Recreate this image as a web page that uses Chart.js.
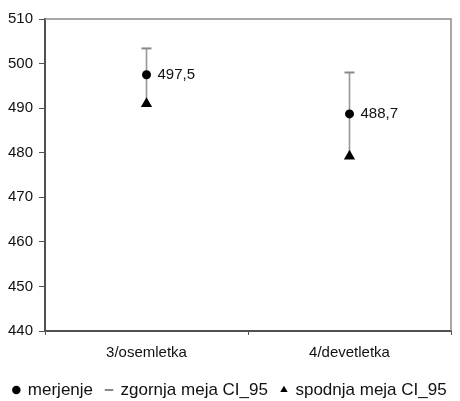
<!DOCTYPE html>
<html>
<head>
<meta charset="utf-8">
<script src="https://cdn.jsdelivr.net/npm/chart.js@4.4.1/dist/chart.umd.min.js"></script>
<style>
  html, body { margin: 0; padding: 0; background: #fff; }
  #wrap { width: 460px; height: 401px; }
</style>
</head>
<body>
<div id="wrap"><canvas id="c"></canvas></div>
<script>
const categories = ['3/osemletka', '4/devetletka'];
const merjenje = [497.5, 488.7];
const zgornjaMeja = [503.4, 498.0];
const spodnjaMeja = [491.0, 479.2];
const yTicks = [440, 450, 460, 470, 480, 490, 500, 510];
const legendNames = ['merjenje', 'zgornja meja CI_95', 'spodnja meja CI_95'];

const FONT = "Arial, 'Liberation Sans', Helvetica, sans-serif";
Chart.defaults.font.family = FONT;
Chart.defaults.color = '#111';

const ciRange = categories.map((_, i) => [spodnjaMeja[i], zgornjaMeja[i]]);

const borderPlugin = {
  id: 'borderBox',
  afterDraw(chart) {
    const a = chart.chartArea, ctx = chart.ctx;
    ctx.save();
    ctx.strokeStyle = '#8a8a8a';
    ctx.lineWidth = 1.5;
    ctx.beginPath();
    ctx.moveTo(a.left, a.top);
    ctx.lineTo(a.right, a.top);
    ctx.lineTo(a.right, a.bottom);
    ctx.stroke();
    ctx.restore();
  }
};

const labelPlugin = {
  id: 'valueLabels',
  afterDatasetsDraw(chart) {
    const meta = chart.getDatasetMeta(0);
    const ctx = chart.ctx;
    ctx.save();
    ctx.font = '15px ' + FONT;
    ctx.fillStyle = '#111';
    ctx.textBaseline = 'middle';
    ctx.textAlign = 'left';
    meta.data.forEach((el, i) => {
      ctx.fillText(merjenje[i].toFixed(1).replace('.', ','), el.x + 11, el.y);
    });
    ctx.restore();
  }
};

new Chart(document.getElementById('c'), {
  type: 'bar',
  data: {
    labels: categories,
    datasets: [
      {
        type: 'line', label: legendNames[0], data: merjenje, showLine: false,
        pointStyle: 'circle', pointRadius: 4.5, pointHoverRadius: 4.5,
        pointBackgroundColor: '#000', pointBorderColor: '#000', pointBorderWidth: 0,
        backgroundColor: '#000', borderColor: '#000'
      },
      {
        type: 'line', label: legendNames[1], data: zgornjaMeja, showLine: false,
        pointStyle: 'line', pointRadius: 5, pointHoverRadius: 5,
        pointBackgroundColor: '#888', pointBorderColor: '#888', pointBorderWidth: 2,
        backgroundColor: '#888', borderColor: '#888'
      },
      {
        type: 'line', label: legendNames[2], data: spodnjaMeja, showLine: false,
        pointStyle: 'triangle', pointRadius: 6.5, pointHoverRadius: 6.5,
        pointBackgroundColor: '#000', pointBorderColor: '#000', pointBorderWidth: 0,
        backgroundColor: '#000', borderColor: '#000'
      },
      {
        type: 'bar', label: 'CI', data: ciRange, barThickness: 1,
        backgroundColor: '#9a9a9a', borderWidth: 0, grouped: false
      }
    ]
  },
  options: {
    responsive: true,
    maintainAspectRatio: false,
    animation: false,
    events: [],
    layout: { padding: { left: 0, right: 0, top: 19, bottom: -7.5 } },
    plugins: {
      tooltip: { enabled: false },
      legend: {
        position: 'bottom',
        labels: {
          usePointStyle: true,
          boxWidth: 6,
          boxHeight: 6,
          padding: 13,
          color: '#111',
          font: { size: 17, family: FONT },
          filter: (item) => item.datasetIndex < 3
        }
      }
    },
    scales: {
      x: {
        offset: true,
        afterFit: (scale) => { scale.height = 37.5; },
        grid: { display: true, drawOnChartArea: false, offset: true, tickLength: 4, color: '#555', lineWidth: 1 },
        border: { display: true, color: '#505050', width: 2 },
        ticks: { padding: 9, color: '#111', font: { size: 15, family: FONT } }
      },
      y: {
        min: yTicks[0],
        max: yTicks[yTicks.length - 1],
        afterBuildTicks: (scale) => { scale.ticks = yTicks.map(v => ({ value: v })); },
        afterFit: (scale) => { scale.width = 45; },
        grid: { display: true, drawOnChartArea: false, tickLength: 6, color: '#555', lineWidth: 1 },
        border: { display: true, color: '#505050', width: 2 },
        ticks: { padding: 6, color: '#111', font: { size: 15, family: FONT } }
      },
      yRight: {
        position: 'right',
        display: true,
        min: yTicks[0],
        max: yTicks[yTicks.length - 1],
        afterFit: (scale) => { scale.width = 9; },
        grid: { display: false },
        border: { display: false },
        ticks: { display: false }
      }
    }
  },
  plugins: [borderPlugin, labelPlugin]
});
</script>
</body>
</html>
